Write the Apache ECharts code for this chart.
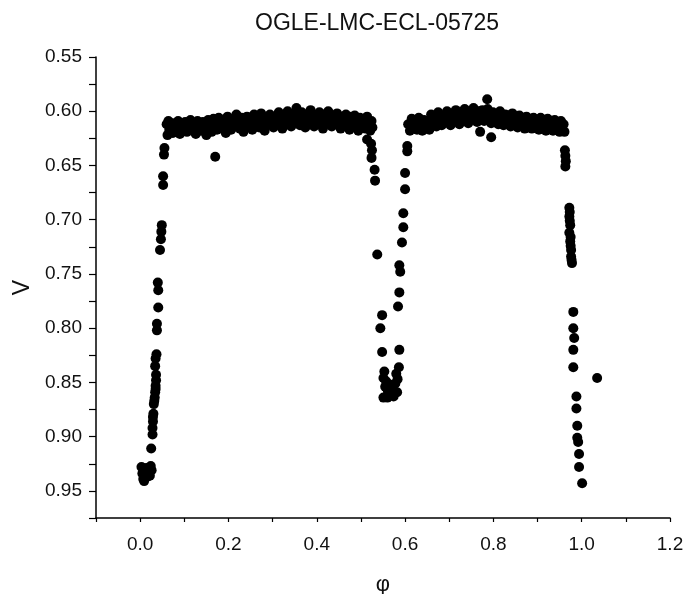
<!DOCTYPE html>
<html>
<head>
<meta charset="utf-8">
<script src="https://cdn.jsdelivr.net/npm/echarts@6/dist/echarts.min.js"></script>
<style>
  html, body { margin: 0; padding: 0; background: #fff; }
  #chart { width: 685px; height: 594px; }
</style>
</head>
<body>
<div id="chart"></div>
<script>
// phase / V magnitude pairs
const primaryEgress = [
  [0.003, 0.928], [0.005, 0.934], [0.007, 0.939], [0.009, 0.941], [0.011, 0.933],
  [0.014, 0.929], [0.016, 0.937], [0.019, 0.932], [0.022, 0.936], [0.024, 0.927],
  [0.026, 0.931], [0.025, 0.911], [0.028, 0.898], [0.028, 0.892], [0.029, 0.886],
  [0.029, 0.882], [0.030, 0.879], [0.031, 0.870], [0.032, 0.867], [0.033, 0.864],
  [0.034, 0.859], [0.035, 0.856], [0.035, 0.853], [0.036, 0.848], [0.036, 0.843],
  [0.034, 0.835], [0.035, 0.828], [0.037, 0.824], [0.038, 0.802], [0.038, 0.796],
  [0.041, 0.781], [0.041, 0.765], [0.040, 0.758], [0.045, 0.728], [0.047, 0.718],
  [0.048, 0.711], [0.049, 0.705], [0.052, 0.668], [0.052, 0.660], [0.054, 0.640],
  [0.055, 0.634]
];

const plateauLeft = [
  [0.060, 0.612], [0.062, 0.622], [0.064, 0.609], [0.066, 0.617], [0.070, 0.611],
  [0.074, 0.620], [0.078, 0.611], [0.082, 0.616], [0.086, 0.609], [0.090, 0.621],
  [0.094, 0.612], [0.098, 0.617], [0.102, 0.610], [0.106, 0.619], [0.110, 0.613],
  [0.114, 0.608], [0.118, 0.616], [0.122, 0.611], [0.126, 0.621], [0.130, 0.609],
  [0.134, 0.614], [0.138, 0.618], [0.142, 0.610], [0.146, 0.615], [0.150, 0.622],
  [0.154, 0.608], [0.158, 0.613], [0.162, 0.619], [0.166, 0.607], [0.170, 0.612],
  [0.174, 0.617], [0.178, 0.606], [0.182, 0.611], [0.186, 0.616], [0.190, 0.609],
  [0.194, 0.620], [0.198, 0.605], [0.202, 0.612], [0.206, 0.617], [0.210, 0.608],
  [0.214, 0.614], [0.218, 0.603], [0.222, 0.611], [0.226, 0.616], [0.230, 0.606],
  [0.234, 0.619], [0.238, 0.610], [0.242, 0.605], [0.246, 0.614], [0.250, 0.609],
  [0.254, 0.617], [0.258, 0.603], [0.262, 0.611], [0.266, 0.607], [0.270, 0.615],
  [0.274, 0.602], [0.278, 0.610], [0.282, 0.618], [0.286, 0.606], [0.290, 0.612],
  [0.294, 0.603], [0.298, 0.609], [0.302, 0.615], [0.306, 0.605], [0.310, 0.611],
  [0.314, 0.601], [0.318, 0.608], [0.322, 0.616], [0.326, 0.604], [0.330, 0.610],
  [0.334, 0.600], [0.338, 0.607], [0.342, 0.614], [0.346, 0.603], [0.350, 0.609],
  [0.354, 0.597], [0.358, 0.606], [0.362, 0.613], [0.366, 0.601], [0.370, 0.608],
  [0.374, 0.615], [0.378, 0.603], [0.382, 0.610], [0.386, 0.599], [0.390, 0.607],
  [0.394, 0.614], [0.398, 0.604], [0.402, 0.611], [0.406, 0.601], [0.410, 0.608],
  [0.414, 0.616], [0.418, 0.603], [0.422, 0.610], [0.426, 0.600], [0.430, 0.607],
  [0.434, 0.614], [0.438, 0.604], [0.442, 0.611], [0.446, 0.602], [0.450, 0.609],
  [0.454, 0.616], [0.458, 0.605], [0.462, 0.612], [0.466, 0.603], [0.470, 0.609],
  [0.474, 0.617], [0.478, 0.605], [0.482, 0.612], [0.486, 0.604], [0.490, 0.610],
  [0.494, 0.618], [0.498, 0.606], [0.502, 0.613], [0.506, 0.608], [0.510, 0.616],
  [0.514, 0.605], [0.518, 0.611], [0.521, 0.618], [0.524, 0.609], [0.526, 0.615]
];

const secondaryEclipse = [
  [0.514, 0.626], [0.523, 0.630], [0.525, 0.636], [0.524, 0.643], [0.531, 0.654],
  [0.532, 0.664], [0.537, 0.732], [0.548, 0.788], [0.544, 0.800], [0.548, 0.822],
  [0.551, 0.846], [0.553, 0.840], [0.555, 0.854], [0.557, 0.849], [0.551, 0.864],
  [0.560, 0.864], [0.561, 0.858], [0.565, 0.852], [0.568, 0.860], [0.572, 0.854],
  [0.574, 0.863], [0.578, 0.851], [0.580, 0.842], [0.582, 0.859], [0.583, 0.847],
  [0.586, 0.836], [0.587, 0.820], [0.584, 0.780], [0.587, 0.767], [0.589, 0.748],
  [0.587, 0.742], [0.593, 0.721], [0.596, 0.707], [0.596, 0.694], [0.600, 0.672],
  [0.600, 0.657], [0.605, 0.637], [0.605, 0.632]
];

const plateauRight = [
  [0.607, 0.612], [0.611, 0.618], [0.615, 0.607], [0.619, 0.614], [0.623, 0.609],
  [0.627, 0.617], [0.631, 0.606], [0.635, 0.613], [0.639, 0.618], [0.643, 0.608],
  [0.647, 0.615], [0.651, 0.610], [0.655, 0.617], [0.659, 0.603], [0.663, 0.611],
  [0.667, 0.605], [0.671, 0.614], [0.675, 0.601], [0.679, 0.609], [0.683, 0.613],
  [0.687, 0.604], [0.691, 0.610], [0.695, 0.600], [0.699, 0.607], [0.703, 0.613],
  [0.707, 0.602], [0.711, 0.609], [0.715, 0.599], [0.719, 0.606], [0.723, 0.612],
  [0.727, 0.601], [0.731, 0.608], [0.735, 0.598], [0.739, 0.605], [0.743, 0.611],
  [0.747, 0.600], [0.751, 0.607], [0.755, 0.597], [0.759, 0.604], [0.763, 0.610],
  [0.767, 0.600], [0.771, 0.606], [0.775, 0.599], [0.779, 0.609], [0.783, 0.602],
  [0.787, 0.598], [0.791, 0.606], [0.795, 0.611], [0.799, 0.601], [0.803, 0.608],
  [0.807, 0.603], [0.811, 0.612], [0.815, 0.600], [0.819, 0.607], [0.823, 0.613],
  [0.827, 0.603], [0.831, 0.609], [0.835, 0.604], [0.839, 0.614], [0.843, 0.602],
  [0.847, 0.610], [0.851, 0.606], [0.855, 0.615], [0.859, 0.604], [0.863, 0.611],
  [0.867, 0.607], [0.871, 0.616], [0.875, 0.605], [0.879, 0.612], [0.883, 0.608],
  [0.887, 0.616], [0.891, 0.606], [0.895, 0.613], [0.899, 0.609], [0.903, 0.617],
  [0.907, 0.606], [0.911, 0.613], [0.915, 0.610], [0.919, 0.618], [0.923, 0.607],
  [0.927, 0.614], [0.931, 0.610], [0.935, 0.618], [0.939, 0.608], [0.943, 0.615],
  [0.947, 0.611], [0.950, 0.619], [0.953, 0.609], [0.956, 0.616], [0.959, 0.612],
  [0.961, 0.619]
];

const primaryIngress = [
  [0.962, 0.636], [0.963, 0.641], [0.964, 0.646], [0.963, 0.651], [0.972, 0.689],
  [0.973, 0.693], [0.972, 0.697], [0.973, 0.701], [0.974, 0.705], [0.972, 0.712],
  [0.975, 0.716], [0.974, 0.720], [0.975, 0.724], [0.976, 0.728], [0.976, 0.734],
  [0.977, 0.737], [0.978, 0.740], [0.981, 0.785], [0.981, 0.800], [0.983, 0.809],
  [0.981, 0.820], [0.981, 0.836], [0.988, 0.863], [0.988, 0.874], [0.990, 0.890],
  [0.990, 0.901], [0.992, 0.905], [0.994, 0.916], [0.994, 0.928], [1.001, 0.943]
];

const outliers = [
  [0.170, 0.642], [0.770, 0.619], [0.795, 0.624], [0.786, 0.589], [1.035, 0.846]
];

const allPoints = [].concat(primaryEgress, plateauLeft, secondaryEclipse,
  plateauRight, primaryIngress, outliers);

const font = '"Liberation Sans", Arial, sans-serif';
const chart = echarts.init(document.getElementById('chart'), null, { renderer: 'canvas' });

chart.setOption({
  animation: false,
  backgroundColor: '#fff',
  title: {
    text: 'OGLE-LMC-ECL-05725',
    left: 250,
    top: 7,
    textStyle: { fontFamily: font, fontSize: 23, fontWeight: 'normal', color: '#111' }
  },
  grid: { left: 96, right: 15, top: 57, bottom: 76, outerBoundsMode: 'none' },
  xAxis: {
    type: 'value',
    min: -0.1,
    max: 1.2,
    interval: 0.1,
    name: 'φ',
    nameLocation: 'middle',
    nameGap: 56,
    nameTextStyle: { fontFamily: font, fontSize: 22, color: '#111' },
    axisLine: { onZero: false, lineStyle: { color: '#000', width: 1.5 } },
    axisTick: { length: 4, lineStyle: { color: '#000', width: 1.2 } },
    axisLabel: {
      margin: 17,
      fontFamily: font,
      fontSize: 19,
      color: '#111',
      formatter: function (v) {
        const k = Math.round(v * 10);
        return (k >= 0 && k % 2 === 0) ? (k / 10).toFixed(1) : '';
      }
    },
    splitLine: { show: false }
  },
  yAxis: {
    type: 'value',
    inverse: true,
    min: 0.55,
    max: 0.975,
    interval: 0.025,
    name: 'V',
    nameLocation: 'middle',
    nameRotate: 90,
    nameGap: 61,
    nameTextStyle: { fontFamily: font, fontSize: 23, color: '#111' },
    axisLine: { show: true, onZero: false, lineStyle: { color: '#000', width: 1.5 } },
    axisTick: { length: 7, lineStyle: { color: '#000', width: 1.2 } },
    axisLabel: {
      margin: 14,
      fontFamily: font,
      fontSize: 19,
      color: '#111',
      formatter: function (v) {
        const k = Math.round(v * 1000);
        return (k % 50 === 0) ? (k / 1000).toFixed(2) : '';
      }
    },
    splitLine: { show: false }
  },
  series: [
    {
      type: 'scatter',
      symbol: 'circle',
      symbolSize: 10,
      itemStyle: { color: '#000', opacity: 1 },
      data: allPoints
    }
  ]
});
</script>
</body>
</html>
